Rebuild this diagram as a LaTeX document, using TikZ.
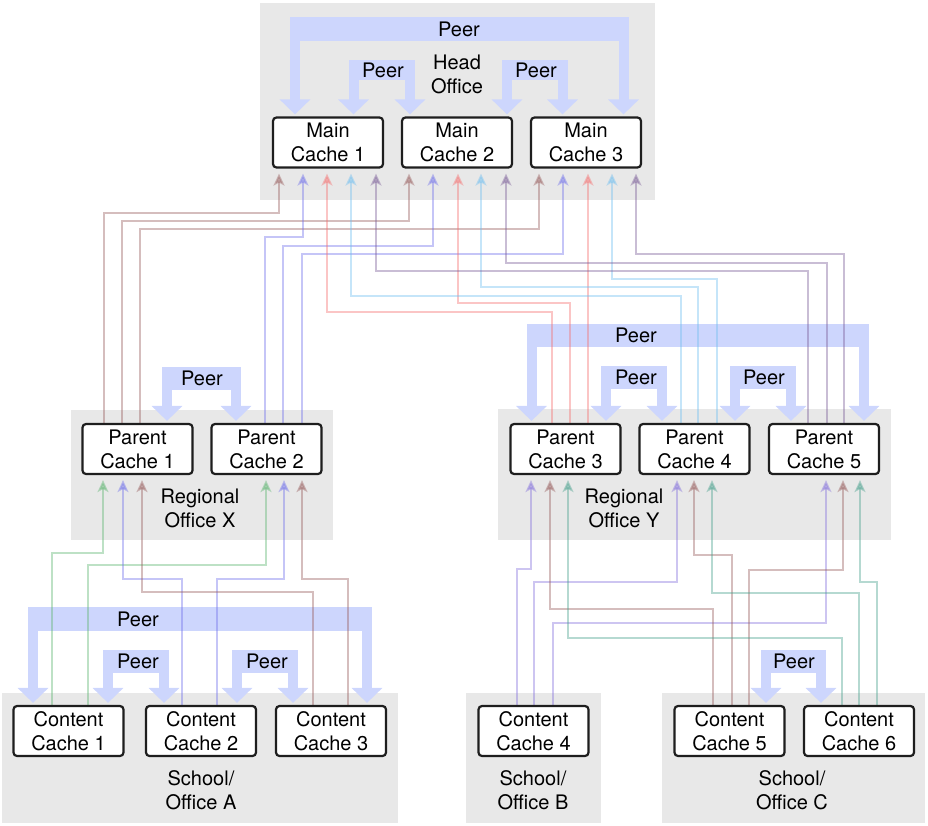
\documentclass[tikz,border=0pt]{standalone}
\usepackage{fontspec}
\setmainfont{TeX Gyre Heros}
\usetikzlibrary{arrows.meta}
\definecolor{groupbg}{RGB}{232,232,232}
\definecolor{peerc}{RGB}{205,214,253}
\definecolor{boxline}{RGB}{30,30,30}
\definecolor{brownL}{RGB}{150,90,90}
\definecolor{blueL}{RGB}{110,110,235}
\definecolor{pinkL}{RGB}{245,110,110}
\definecolor{cyanL}{RGB}{110,190,240}
\definecolor{mauveL}{RGB}{120,90,150}
\definecolor{greenL}{RGB}{90,180,110}
\definecolor{tealL}{RGB}{70,160,140}
\definecolor{lavL}{RGB}{130,110,220}
\pgfdeclarelayer{bglayer}
\pgfdeclarelayer{peerlayer}
\pgfdeclarelayer{linelayer}
\pgfsetlayers{bglayer,peerlayer,linelayer,main}
% #1 src node, #2 x left, #3 tgt node, #4 x right, #5 band top, #6 band bottom, #7 label x, #8 label name
\newcommand\peerlink[8]{%
  \begin{pgfonlayer}{peerlayer}
  \fill[peerc] ({#2-5},#5) rectangle ({#4+5},#6);
  \draw[peerarrow] (#1.north -| #2,0) -- (#2,{(#5+#6)/2}) -- (#4,{(#5+#6)/2}) -- (#3.north -| #4,0);
  \end{pgfonlayer}
  \node (#8) at (#7,{(#5+#6)/2}) {Peer};
}
% #1 colour, #2 src node, #3 src x, #4 turn y, #5 tgt x, #6 tgt node
\newcommand\cachelink[6]{%
  \begin{pgfonlayer}{linelayer}
  \draw[conn,#1] (#2.north -| #3,0) -- (#3,#4) -- (#5,#4) -- (#6.south -| #5,0);
  \end{pgfonlayer}
}
\begin{document}
\begin{tikzpicture}[x=1pt,y=-1pt,
  every node/.style={font=\fontsize{20}{24}\selectfont, align=center, inner sep=0pt},
  cache/.style={draw=boxline, line width=2.2pt, fill=white, rounded corners=3.5pt,
    minimum width=110pt, minimum height=50pt},
  peerarrow/.style={draw=peerc, line width=10pt,
    {Triangle[width=30pt,length=15pt]}-{Triangle[width=30pt,length=15pt]},
    shorten <=2pt, shorten >=2pt},
  conn/.style={line width=2pt, opacity=0.4,
    -{Stealth[width=11pt,length=12pt,inset=3pt]}, shorten >=5pt},
]
\useasboundingbox (0,0) rectangle (928,826);

% group backgrounds
\begin{pgfonlayer}{bglayer}
\fill[groupbg] (260,3) rectangle (655,200);
\fill[groupbg] (71,410) rectangle (333,540);
\fill[groupbg] (498,409) rectangle (891,540);
\fill[groupbg] (2,693) rectangle (398,823);
\fill[groupbg] (466,693) rectangle (601,823);
\fill[groupbg] (662,693) rectangle (925,823);
\end{pgfonlayer}

% group labels
\node (hoL) at (457,74) {Head\\Office};
\node (rxL) at (200,508) {Regional\\Office X};
\node (ryL) at (624,508) {Regional\\Office Y};
\node (saL) at (201,790) {School/\\Office A};
\node (sbL) at (533,790) {School/\\Office B};
\node (scL) at (792,790) {School/\\Office C};

% caches
\node[cache] (M1) at (328,142.5) {Main\\Cache 1};
\node[cache] (M2) at (457,142.5) {Main\\Cache 2};
\node[cache] (M3) at (586,142.5) {Main\\Cache 3};
\node[cache] (P1) at (137.5,449) {Parent\\Cache 1};
\node[cache] (P2) at (266.5,449) {Parent\\Cache 2};
\node[cache] (P3) at (565.5,449) {Parent\\Cache 3};
\node[cache] (P4) at (694.5,449) {Parent\\Cache 4};
\node[cache] (P5) at (824,449) {Parent\\Cache 5};
\node[cache] (C1) at (68.5,731) {Content\\Cache 1};
\node[cache] (C2) at (201,731) {Content\\Cache 2};
\node[cache] (C3) at (331,731) {Content\\Cache 3};
\node[cache] (C4) at (533.5,731) {Content\\Cache 4};
\node[cache] (C5) at (729.5,731) {Content\\Cache 5};
\node[cache] (C6) at (859,731) {Content\\Cache 6};

% peer links
\peerlink{M1}{295}{M3}{623.5}{17}{41}{459}{pk1}
\peerlink{M1}{353.5}{M2}{410}{60}{80}{383}{pk2}
\peerlink{M2}{507}{M3}{562.5}{60}{80}{536}{pk3}
\peerlink{P1}{167}{P2}{236}{367}{390}{202}{pk4}
\peerlink{P3}{531.5}{P5}{864}{324}{347}{636}{pk5}
\peerlink{P3}{606}{P4}{662}{366}{389}{636}{pk6}
\peerlink{P4}{735}{P5}{791}{366}{389}{764}{pk7}
\peerlink{C1}{33}{C3}{367}{607}{631}{138}{pk8}
\peerlink{C1}{108}{C2}{164}{650}{673}{138}{pk9}
\peerlink{C2}{237}{C3}{293}{650}{673}{267}{pk10}
\peerlink{C5}{766}{C6}{821}{650}{673}{794}{pk11}

% parent -> main
\cachelink{brownL}{P1}{104}{213}{279}{M1}
\cachelink{brownL}{P1}{122}{221}{409}{M2}
\cachelink{brownL}{P1}{140}{229}{539}{M3}
\cachelink{blueL}{P2}{265}{237}{303}{M1}
\cachelink{blueL}{P2}{283}{246}{433}{M2}
\cachelink{blueL}{P2}{302}{254}{563}{M3}
\cachelink{pinkL}{P3}{552}{312}{327}{M1}
\cachelink{pinkL}{P3}{570}{303}{458}{M2}
\begin{pgfonlayer}{linelayer}
\draw[conn,pinkL] (P3.north -| 588,0) -- (M3.south -| 588,0);
\end{pgfonlayer}
\cachelink{cyanL}{P4}{681}{296}{351}{M1}
\cachelink{cyanL}{P4}{698}{287}{481}{M2}
\cachelink{cyanL}{P4}{717}{279}{612}{M3}
\cachelink{mauveL}{P5}{808}{271}{376}{M1}
\cachelink{mauveL}{P5}{827}{263}{506}{M2}
\cachelink{mauveL}{P5}{844}{254}{636}{M3}

% content -> parent
\cachelink{greenL}{C1}{52}{553}{103}{P1}
\cachelink{greenL}{C1}{88}{565}{266}{P2}
\cachelink{blueL}{C2}{182}{579}{123}{P1}
\cachelink{blueL}{C2}{217}{579}{284}{P2}
\cachelink{brownL}{C3}{313}{592}{142}{P1}
\cachelink{brownL}{C3}{348}{579}{302}{P2}
\cachelink{lavL}{C4}{517}{569}{531}{P3}
\cachelink{lavL}{C4}{534}{582}{677}{P4}
\cachelink{lavL}{C4}{553}{623}{826}{P5}
\cachelink{brownL}{C5}{713}{609}{550}{P3}
\cachelink{brownL}{C5}{732}{555}{694}{P4}
\cachelink{brownL}{C5}{749}{570}{843}{P5}
\cachelink{tealL}{C6}{842}{638}{568}{P3}
\cachelink{tealL}{C6}{859}{593}{712}{P4}
\cachelink{tealL}{C6}{877}{582}{860}{P5}
\end{tikzpicture}
\end{document}
